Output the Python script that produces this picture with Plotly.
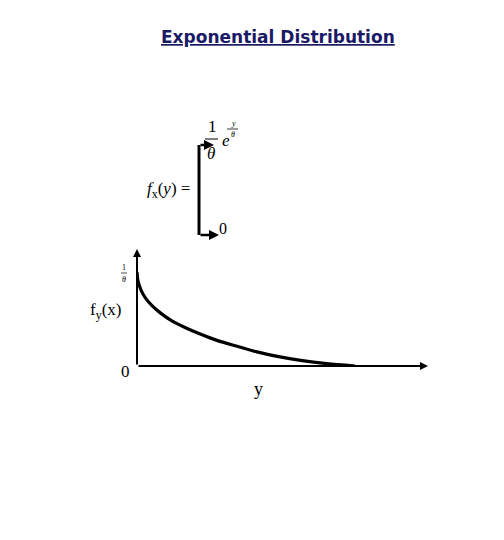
import plotly.graph_objects as go

# Data (y in units, f in units of 1/theta)
y_vals = [0.0, 0.005, 0.02, 0.04, 0.07, 0.11, 0.16, 0.22, 0.29, 0.37, 0.46, 0.55, 0.65, 0.75, 0.87, 1.0]
f_vals = [1.0, 0.90, 0.80, 0.72, 0.64, 0.56, 0.48, 0.41, 0.34, 0.27, 0.21, 0.15, 0.10, 0.06, 0.025, 0.0]
title_text = "Exponential Distribution"

W, H = 504, 540
OFF = 8
def px(x): return (x - OFF) / W
def py(y): return 1 - (y - OFF) / H

fig = go.Figure()
fig.add_trace(go.Scatter(x=y_vals, y=f_vals, mode="lines",
                         line=dict(color="black", width=3.2, shape="spline", smoothing=0.8),
                         hoverinfo="skip", showlegend=False))

fig.update_layout(
    width=W, height=H, margin=dict(l=0, r=0, t=0, b=0),
    paper_bgcolor="white", plot_bgcolor="white",
    xaxis=dict(domain=[px(137), px(425)], range=[0, 288/218], visible=False, fixedrange=True),
    yaxis=dict(domain=[py(366), py(250)], range=[0, 116/94], visible=False, fixedrange=True),
)

ann = []
def arrow(x0, y0, x1, y1, w=2):
    ann.append(dict(x=px(x1), y=py(y1), ax=x0 - x1, ay=y0 - y1, xref="paper", yref="paper",
                    axref="pixel", ayref="pixel", text="", showarrow=True,
                    arrowhead=2, arrowsize=0.8, arrowwidth=w, arrowcolor="black"))
def txt(x, y, s, size=14, family="Liberation Serif", color="black"):
    ann.append(dict(x=px(x), y=py(y), xref="paper", yref="paper", text=s, showarrow=False,
                    font=dict(size=size, family=family, color=color),
                    xanchor="center", yanchor="middle"))

# axes of the chart
arrow(137, 366, 428, 366)
arrow(137, 366, 137, 249)
# bracket of formula
fig.add_shape(type="line", xref="paper", yref="paper", x0=px(199), y0=py(145), x1=px(199), y1=py(235),
              line=dict(color="black", width=3))
arrow(199, 145, 214, 145, 2.5)
arrow(199, 235, 219, 235, 2.5)
fig.add_shape(type="line", xref="paper", yref="paper", x0=px(205), y0=py(139), x1=px(218), y1=py(139),
              line=dict(color="black", width=1))

# title
txt(278, 37, "<b><u>" + title_text + "</u></b>", 17, "DejaVu Sans", "#1a1a66")
# formula
txt(212, 127, "1", 17)
txt(211, 153, "<i>θ</i>", 17)
txt(226, 141, "<i>e</i>", 17)
txt(233, 124, "<i>y</i>", 8)
fig.add_shape(type="line", xref="paper", yref="paper", x0=px(227), y0=py(129), x1=px(238), y1=py(129),
              line=dict(color="black", width=0.8))
txt(233, 135, "<i>θ</i>", 8)
txt(168, 190, "<i>f</i><sub>x</sub>(<i>y</i>) =", 17)
txt(223, 229, "0", 16)
# chart labels
txt(124, 268, "1", 8)
fig.add_shape(type="line", xref="paper", yref="paper", x0=px(121), y0=py(273), x1=px(127), y1=py(273),
              line=dict(color="black", width=0.7))
txt(124, 279, "<i>θ</i>", 8)
txt(105, 311, "f<sub>y</sub>(x)", 17)
txt(125, 371, "0", 17)
txt(258, 389, "y", 18)

fig.update_layout(annotations=ann)
fig.write_html("out.html")
